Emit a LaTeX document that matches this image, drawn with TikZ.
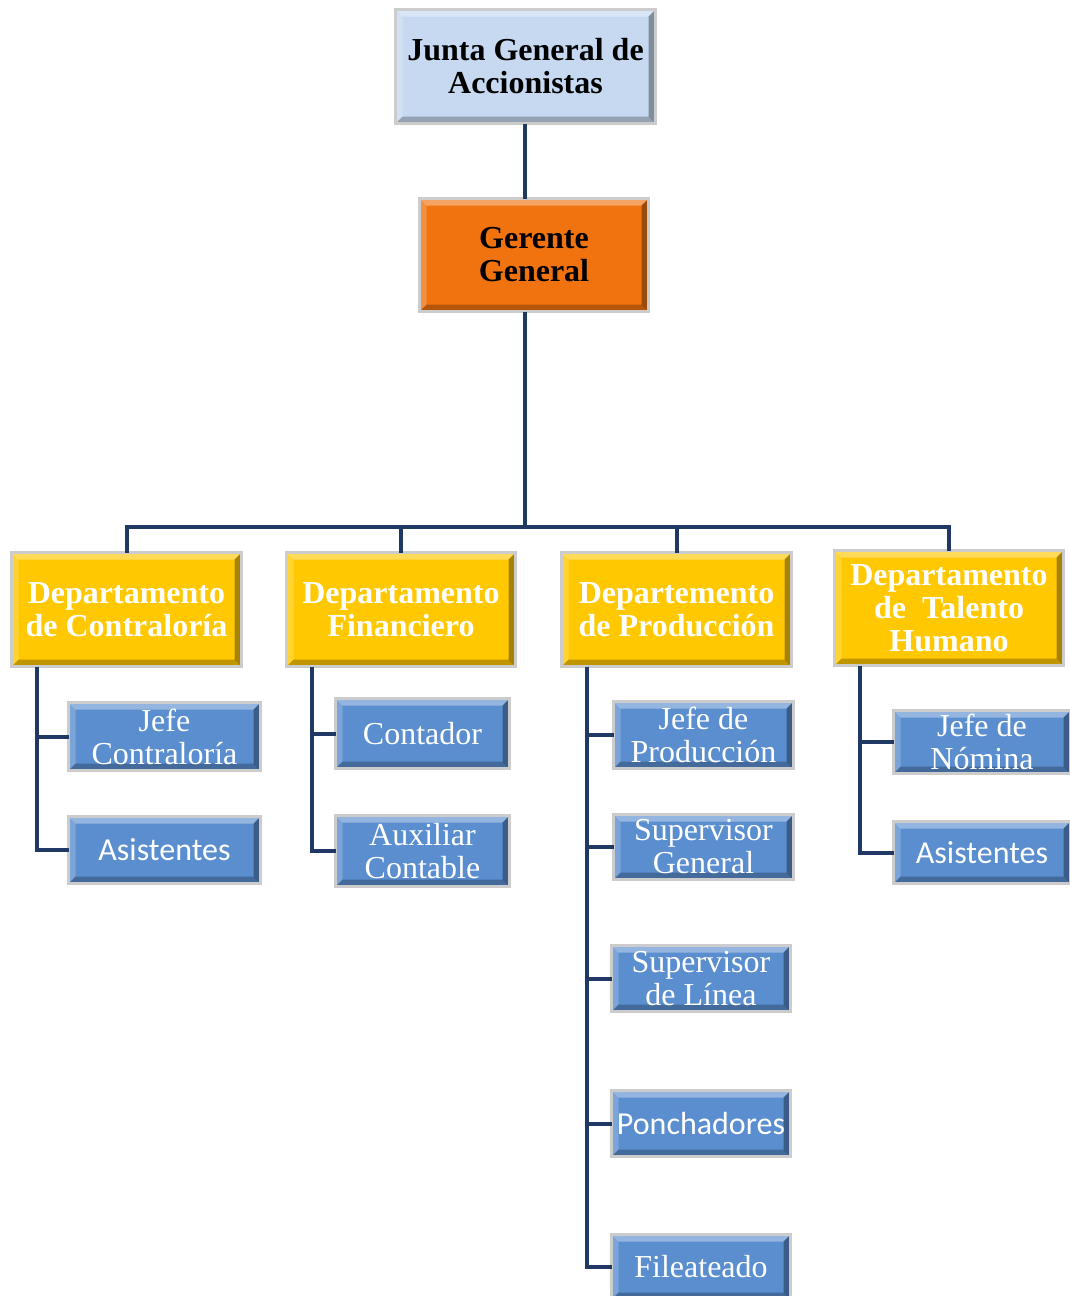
\documentclass[tikz,border=0pt]{standalone}
\usepackage{fontspec}
\setmainfont{Liberation Serif}
\newfontfamily\calfont{Carlito}
\definecolor{lineblue}{HTML}{1F3864}
\definecolor{topblue}{HTML}{C6D9F1}
\definecolor{orangeb}{HTML}{F0730F}
\definecolor{yellowb}{HTML}{FFC800}
\definecolor{blueb}{HTML}{5A8ECF}
\tikzset{
  bevel/.style={path picture={
    \fill[white,opacity=0.35] (path picture bounding box.north west) -- (path picture bounding box.north east) -- ([xshift=-7pt,yshift=-7pt]path picture bounding box.north east) -- ([xshift=7pt,yshift=-7pt]path picture bounding box.north west) -- cycle;
    \fill[white,opacity=0.2] (path picture bounding box.north west) -- ([xshift=7pt,yshift=-7pt]path picture bounding box.north west) -- ([xshift=7pt,yshift=7pt]path picture bounding box.south west) -- (path picture bounding box.south west) -- cycle;
    \fill[black,opacity=0.35] (path picture bounding box.north east) -- (path picture bounding box.south east) -- ([xshift=-7pt,yshift=7pt]path picture bounding box.south east) -- ([xshift=-7pt,yshift=-7pt]path picture bounding box.north east) -- cycle;
    \fill[black,opacity=0.25] (path picture bounding box.south west) -- (path picture bounding box.south east) -- ([xshift=-7pt,yshift=7pt]path picture bounding box.south east) -- ([xshift=7pt,yshift=7pt]path picture bounding box.south west) -- cycle;
  }},
  box/.style={rectangle, draw=gray!40, line width=3pt, inner sep=0pt, outer sep=0pt, align=center, bevel, font=\fontsize{32}{33}\selectfont},
  topbox/.style={box, fill=topblue, font=\bfseries\fontsize{32}{33}\selectfont, text=black},
  gerbox/.style={box, fill=orangeb, font=\bfseries\fontsize{32}{33}\selectfont, text=black},
  deptbox/.style={box, fill=yellowb, font=\bfseries\fontsize{32}{33}\selectfont, text=white},
  subbox/.style={box, fill=blueb, text=white},
  sansbox/.style={subbox, font=\calfont\fontsize{32}{33}\selectfont},
  conn/.style={draw=lineblue, line width=4pt},
}
\begin{document}
\begin{tikzpicture}[x=1pt,y=-1pt]
\useasboundingbox (0,0) rectangle (1070,1296);
\node[topbox, minimum width=260, minimum height=114] (junta) at (525.5,66.5) {Junta General de\\Accionistas};
\node[gerbox, minimum width=229, minimum height=113] (ger) at (534,255) {Gerente\\General};
\coordinate (bus) at (525,527);
\node[deptbox, minimum width=230, minimum height=114] (d1) at (126.5,609.5) {Departamento\\de Contralor\'ia};
\node[deptbox, minimum width=229, minimum height=114] (d2) at (401,609.5) {Departamento\\Financiero};
\node[deptbox, minimum width=230, minimum height=114] (d3) at (676.5,609.5) {Departemento\\de Producci\'on};
\node[deptbox, minimum width=229, minimum height=115] (d4) at (949,608) {Departamento\\de\ \ Talento\\Humano};
% subordinates
\node[subbox, minimum width=192, minimum height=68] (j1) at (164.5,736.5) {Jefe\\Contralor\'ia};
\node[sansbox, minimum width=192, minimum height=67] (a1) at (164.5,850) {Asistentes};
\node[subbox, minimum width=174, minimum height=70] (c2) at (422.5,733.5) {Contador};
\node[subbox, minimum width=174, minimum height=71] (x2) at (422.5,851) {Auxiliar\\Contable};
\node[subbox, minimum width=180, minimum height=67] (p1) at (703.5,735) {Jefe de\\Producci\'on};
\node[subbox, minimum width=180, minimum height=65] (p2) at (703.5,847) {Supervisor\\General};
\node[subbox, minimum width=179, minimum height=66] (p3) at (701,978.5) {Supervisor\\de L\'inea};
\node[sansbox, minimum width=179, minimum height=66] (p4) at (701,1123.5) {Ponchadores};
\node[subbox, minimum width=179, minimum height=65] (p5) at (701,1267) {Fileateado};
\node[subbox, minimum width=177, minimum height=63] (t1) at (982,742) {Jefe de\\N\'omina};
\node[sansbox, minimum width=177, minimum height=62] (t2) at (982,852.5) {Asistentes};
% connectors
\draw[conn] (bus |- junta.south) -- (bus |- ger.north);
\draw[conn] (bus |- ger.south) -- (bus);
\draw[conn] (d1.north) -- (d1.north |- bus) -- (d4.north |- bus) -- (d4.north);
\draw[conn] (d2.north) -- (d2.north |- bus);
\draw[conn] (d3.north) -- (d3.north |- bus);
\draw[conn] ([xshift=25pt]d1.south west) |- (j1.west);
\draw[conn] ([xshift=25pt]d1.south west) |- (a1.west);
\draw[conn] ([xshift=25pt]d2.south west) |- (c2.west);
\draw[conn] ([xshift=25pt]d2.south west) |- (x2.west);
\draw[conn] ([xshift=25pt]d3.south west) |- (p1.west);
\draw[conn] ([xshift=25pt]d3.south west) |- (p2.west);
\draw[conn] ([xshift=25pt]d3.south west) |- (p3.west);
\draw[conn] ([xshift=25pt]d3.south west) |- (p4.west);
\draw[conn] ([xshift=25pt]d3.south west) |- (p5.west);
\draw[conn] ([xshift=25pt]d4.south west) |- (t1.west);
\draw[conn] ([xshift=25pt]d4.south west) |- (t2.west);
\end{tikzpicture}
\end{document}
